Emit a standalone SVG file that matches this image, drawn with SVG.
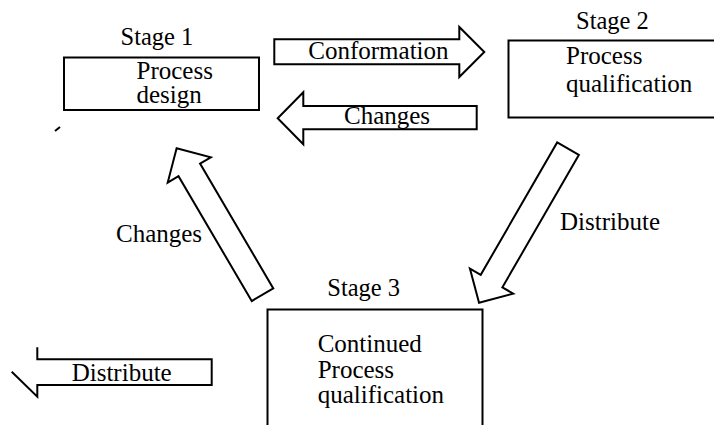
<svg xmlns="http://www.w3.org/2000/svg" width="714" height="425" viewBox="0 0 714 425" font-family="'Liberation Serif', 'Times New Roman', 'DejaVu Serif', serif">
<style>
text{font-family:'Liberation Serif','Times New Roman','DejaVu Serif',serif;font-size:25px;fill:#000}
.stage{font-size:24.5px}
.box{fill:#fff;stroke:#000;stroke-width:2}
.arrow{fill:#fff;stroke:#000;stroke-width:2;stroke-linejoin:miter}
.open{fill:none;stroke:#000;stroke-width:2}
</style>
<rect width="714" height="425" fill="#fff"/>
<g id="stage1">
<rect class="box" x="64" y="57.5" width="195" height="52.5"/>
<text class="stage" x="120.5" y="45">Stage 1</text>
<text x="136.5" y="78.5">Process</text>
<text x="136.5" y="103">design</text>
</g>
<g id="stage2">
<rect class="box" x="508.5" y="40.5" width="210" height="77"/>
<text class="stage" x="576" y="29.3">Stage 2</text>
<text x="566" y="64">Process</text>
<text x="566" y="91.7">qualification</text>
</g>
<g id="stage3">
<rect class="box" x="267.5" y="309.5" width="215" height="130"/>
<text class="stage" x="327.3" y="296">Stage 3</text>
<text x="317.7" y="351.7">Continued</text>
<text x="317.7" y="378.3">Process</text>
<text x="317.7" y="403.3">qualification</text>
</g>
<g id="connectors">
<polygon class="arrow" points="274.3,39.3 459.3,39.3 459.3,27 484.3,52 459.3,77 459.3,64.3 274.3,64.3"/>
<text x="308.3" y="59.3">Conformation</text>
<polygon class="arrow" points="476.7,106 303.3,106 303.3,92.3 277.7,118.3 303.3,144.3 303.3,129.3 476.7,129.3"/>
<text x="344" y="124.3">Changes</text>
<polygon class="arrow" transform="translate(262.5,294.7) rotate(-120.4)" points="0,-12.5 144.7,-12.5 144.7,-25 169.7,0 144.7,25 144.7,12.5 0,12.5"/>
<text x="116" y="241.7">Changes</text>
<polygon class="arrow" transform="translate(568,148.7) rotate(120)" points="0,-12.5 152.9,-12.5 152.9,-25 177.9,0 152.9,25 152.9,12.5 0,12.5"/>
<text x="560" y="230">Distribute</text>
<path class="open" d="M37.3,347.3 V359.3 H211.7 V385 H37.3 V396.7 L11.7,371.7"/>
<text x="71.7" y="380.7">Distribute</text>
<line class="open" x1="55" y1="131" x2="60" y2="127"/>
</g>
</svg>
